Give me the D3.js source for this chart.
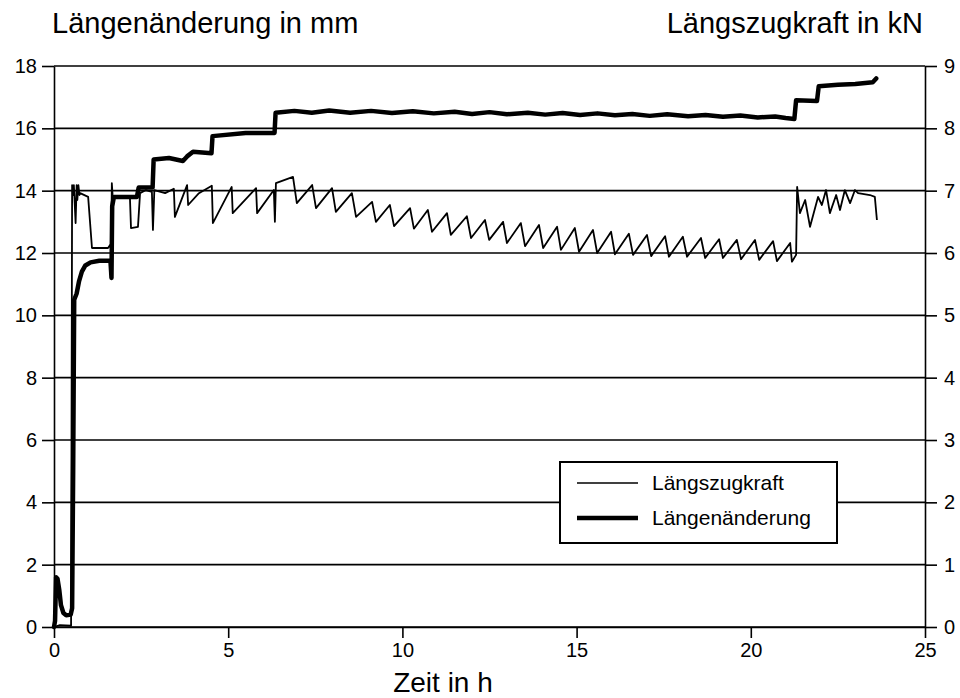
<!DOCTYPE html>
<html>
<head>
<meta charset="utf-8">
<script src="https://cdn.jsdelivr.net/npm/d3@7"></script>
<style>
    body { margin: 0; background: #fff; }
    svg { font-family: "Liberation Sans", Arial, sans-serif; }
    .axis path, .axis line { stroke: #000; stroke-width: 1.6; }
    .axis text { font-size: 20px; fill: #000; }
</style>
</head>
<body>
<svg id="chart" width="960" height="698"></svg>
<script>

// Längszugkraft (thin line, right axis, kN)
const forceTime = [0, 0.17, 0.49, 0.52, 0.55, 0.57, 0.62, 0.65, 0.67, 0.70, 0.73, 0.75, 0.98, 1.09, 1.55, 1.61, 1.64, 1.66, 1.69, 1.75,
    2.18, 2.21, 2.41, 2.47, 2.64, 2.81, 2.84, 2.88, 3.19, 3.44, 3.47, 3.82, 3.85, 4.16, 4.53, 4.56, 5.10, 5.13, 5.80, 5.83,
    6.31, 6.34, 6.37, 6.86, 6.97, 7.41, 7.52, 7.98, 8.09, 8.55, 8.67, 9.13, 9.24, 9.64, 9.76, 10.22, 10.33, 10.73, 10.85,
    11.28, 11.39, 11.85, 11.97, 12.37, 12.49, 12.89, 13.00, 13.40, 13.52, 13.92, 14.04, 14.44, 14.55, 14.95, 15.07,
    15.47, 15.59, 15.99, 16.10, 16.50, 16.62, 17.02, 17.14, 17.54, 17.65, 18.05, 18.17, 18.57, 18.69, 19.09, 19.20,
    19.60, 19.72, 20.12, 20.24, 20.64, 20.75, 21.13, 21.18, 21.30, 21.33, 21.41, 21.56, 21.70, 21.93, 22.04, 22.16,
    22.27, 22.45, 22.56, 22.70, 22.85, 22.99, 23.08, 23.42, 23.56, 23.62];
const forceKN = [0, 0.03, 0.02, 7.09, 6.93, 7.09, 6.48, 7.09, 6.85, 7.09, 6.93, 6.96, 6.90, 6.08, 6.08, 6.13, 6.05, 7.12, 6.85, 6.90,
    6.88, 6.40, 6.42, 6.96, 7.01, 6.98, 6.37, 7.01, 6.96, 7.03, 6.58, 7.09, 6.77, 6.96, 7.08, 6.48, 7.06, 6.64, 7.04, 6.64,
    7.01, 6.50, 7.12, 7.22, 6.80, 7.09, 6.72, 7.04, 6.66, 6.96, 6.58, 6.82, 6.50, 6.77, 6.43, 6.72, 6.39, 6.69, 6.34,
    6.64, 6.29, 6.59, 6.24, 6.53, 6.21, 6.50, 6.16, 6.48, 6.11, 6.45, 6.08, 6.42, 6.05, 6.40, 6.02,
    6.37, 6.00, 6.34, 5.98, 6.31, 5.97, 6.29, 5.95, 6.27, 5.94, 6.26, 5.94, 6.24, 5.92, 6.22, 5.92,
    6.21, 5.90, 6.21, 5.89, 6.19, 5.87, 6.16, 5.86, 5.97, 7.06, 6.64, 6.85, 6.42, 6.90, 6.77, 7.01,
    6.64, 6.93, 6.69, 7.01, 6.80, 7.01, 6.96, 6.93, 6.90, 6.53];

// Längenänderung (thick line, left axis, mm)
const lengthTime = [0, 0.03, 0.06, 0.10, 0.15, 0.20, 0.27, 0.35, 0.48, 0.52, 0.55, 0.58, 0.65, 0.72, 0.80, 0.90, 1.05, 1.30, 1.62, 1.65,
    1.67, 1.72, 2.38, 2.43, 2.83, 2.86, 3.30, 3.70, 3.82, 3.99, 4.52, 4.55, 5.50, 6.33, 6.36,
    6.9, 7.4, 7.9, 8.5, 9.1, 9.7, 10.3, 10.9, 11.5, 12.0, 12.5, 13.0, 13.6, 14.1, 14.6, 15.1, 15.6, 16.1, 16.6,
    17.1, 17.6, 18.2, 18.7, 19.2, 19.7, 20.2, 20.7, 21.0, 21.25, 21.30, 21.90, 21.95, 22.5, 23.0, 23.5, 23.6];
const lengthMM = [0, 0.2, 1.6, 1.55, 1.2, 0.7, 0.45, 0.38, 0.4, 0.6, 5.0, 10.5, 10.7, 11.1, 11.4, 11.6, 11.7, 11.75, 11.75, 11.2,
    13.5, 13.8, 13.8, 14.1, 14.1, 15.0, 15.05, 14.95, 15.1, 15.25, 15.2, 15.75, 15.85, 15.85, 16.5,
    16.56, 16.5, 16.57, 16.5, 16.56, 16.49, 16.55, 16.48, 16.53, 16.46, 16.52, 16.45, 16.5, 16.44, 16.49, 16.43, 16.48, 16.42, 16.46,
    16.4, 16.45, 16.39, 16.43, 16.37, 16.41, 16.35, 16.38, 16.33, 16.3, 16.9, 16.88, 17.35, 17.4, 17.42, 17.48, 17.6];

// tick labels
const xTicks = [0, 5, 10, 15, 20, 25];
const leftTicks = [0, 2, 4, 6, 8, 10, 12, 14, 16, 18];
const rightTicks = [0, 1, 2, 3, 4, 5, 6, 7, 8, 9];

const svg = d3.select("#chart");

const plotLeft = 54, plotRight = 925, plotTop = 66, plotBottom = 627;

const x = d3.scaleLinear().domain([0, 25]).range([plotLeft, plotRight]);
const yL = d3.scaleLinear().domain([0, 18]).range([plotBottom, plotTop]);
const yR = d3.scaleLinear().domain([0, 9]).range([plotBottom, plotTop]);

// horizontal grid lines
svg.append("g")
    .selectAll("line")
    .data(leftTicks)
    .join("line")
    .attr("x1", plotLeft)
    .attr("x2", plotRight)
    .attr("y1", d => yL(d))
    .attr("y2", d => yL(d))
    .attr("stroke", "#000")
    .attr("stroke-width", 1.6);

// axes
svg.append("g")
    .attr("class", "axis")
    .attr("transform", "translate(" + plotLeft + ",0)")
    .call(d3.axisLeft(yL).tickValues(leftTicks).tickSize(12).tickPadding(5).tickSizeOuter(0));

svg.append("g")
    .attr("class", "axis")
    .attr("transform", "translate(" + plotRight + ",0)")
    .call(d3.axisRight(yR).tickValues(rightTicks).tickSize(12).tickPadding(7).tickSizeOuter(0));

svg.append("g")
    .attr("class", "axis")
    .attr("transform", "translate(0," + plotBottom + ")")
    .call(d3.axisBottom(x).tickValues(xTicks).tickSize(11).tickPadding(5).tickSizeOuter(0));

// the two series
const forceLine = d3.line()
    .x((d, i) => x(forceTime[i]))
    .y(d => yR(d));

const lengthLine = d3.line()
    .x((d, i) => x(lengthTime[i]))
    .y(d => yL(d));

svg.append("path")
    .datum(forceKN)
    .attr("d", forceLine)
    .attr("fill", "none")
    .attr("stroke", "#000")
    .attr("stroke-width", 1.8)
    .attr("stroke-linejoin", "round");

svg.append("path")
    .datum(lengthMM)
    .attr("d", lengthLine)
    .attr("fill", "none")
    .attr("stroke", "#000")
    .attr("stroke-width", 4.5)
    .attr("stroke-linejoin", "round")
    .attr("stroke-linecap", "round");

// axis titles
svg.append("text")
    .attr("x", 52)
    .attr("y", 33)
    .style("font-size", "29px")
    .text("Längenänderung in mm");

svg.append("text")
    .attr("x", 923)
    .attr("y", 33)
    .attr("text-anchor", "end")
    .style("font-size", "29px")
    .text("Längszugkraft in kN");

svg.append("text")
    .attr("x", 443)
    .attr("y", 692)
    .attr("text-anchor", "middle")
    .style("font-size", "28px")
    .text("Zeit in h");

// legend
const legend = svg.append("g");

legend.append("rect")
    .attr("x", 560)
    .attr("y", 462)
    .attr("width", 277)
    .attr("height", 81)
    .attr("fill", "#fff")
    .attr("stroke", "#000")
    .attr("stroke-width", 2);

legend.append("line")
    .attr("x1", 577).attr("x2", 638)
    .attr("y1", 483).attr("y2", 483)
    .attr("stroke", "#000")
    .attr("stroke-width", 1.5);

legend.append("line")
    .attr("x1", 577).attr("x2", 638)
    .attr("y1", 518).attr("y2", 518)
    .attr("stroke", "#000")
    .attr("stroke-width", 4.5);

legend.append("text")
    .attr("x", 652)
    .attr("y", 490)
    .style("font-size", "21px")
    .text("Längszugkraft");

legend.append("text")
    .attr("x", 652)
    .attr("y", 525)
    .style("font-size", "21px")
    .text("Längenänderung");
</script>
</body>
</html>
